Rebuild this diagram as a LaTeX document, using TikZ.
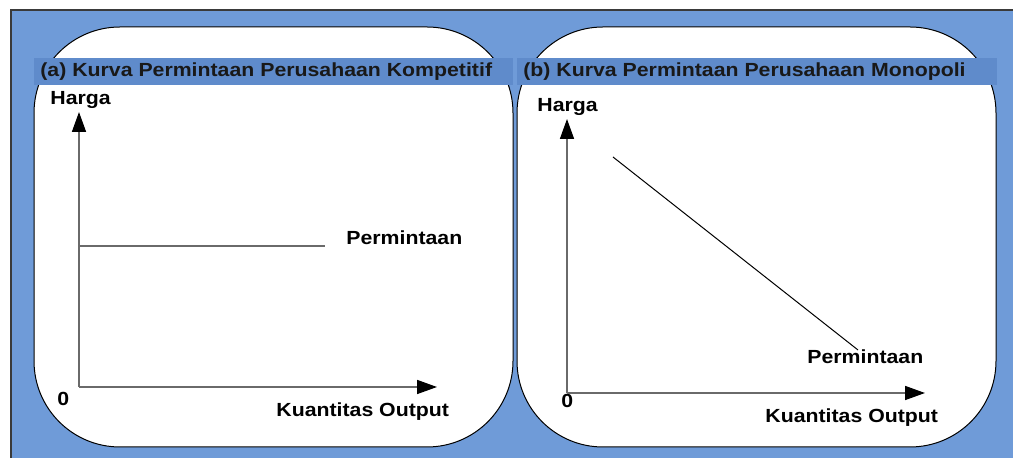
\documentclass[tikz,border=0pt]{standalone}
\usepackage{fontspec}
\newfontfamily\labfont[FakeStretch=1.12]{Liberation Sans}
\usepackage{tikz}
\usetikzlibrary{arrows.meta,positioning}
\definecolor{bgblue}{HTML}{6F9BD8}
\definecolor{band}{HTML}{5F8BCB}
\definecolor{frame}{HTML}{3A3A3A}
\definecolor{axis}{HTML}{6A6A6A}
\tikzset{
  >={Triangle[length=10pt,width=7pt,color=black]},
  panel/.style={draw=black,fill=white,line width=0.5pt,rounded corners=43pt},
  bandbox/.style={fill=band,draw=none},
  lab/.style={font=\labfont\bfseries\fontsize{9.5}{11}\selectfont,inner sep=0pt,anchor=base west},
  ttl/.style={lab,text=black!90},
  ax/.style={->,draw=axis,line width=0.8pt},
  dem/.style={draw=axis,line width=0.8pt},
}
\begin{document}
\begin{tikzpicture}[x=0.5pt,y=-0.5pt]
\useasboundingbox (0,0) rectangle (1013,458);
% backdrop
\fill[white] (0,0) rectangle (1013,458);
\draw[frame,fill=bgblue,line width=0.6pt] (11,10) rectangle (1020,465);
% the two panels
\draw[panel] (34,27) rectangle (513,447);
\draw[panel] (517,27) rectangle (996,447);
\fill[bandbox] (34,58) rectangle (513,85);
\fill[bandbox] (517,58) rectangle (997,85);
\node[ttl] (ta) at (40,77) {(a) Kurva Permintaan Perusahaan Kompetitif};
\node[ttl] (tb) at (523,77) {(b) Kurva Permintaan Perusahaan Monopoli};

% (a) competitive firm
\coordinate (oa) at (79,387);
\coordinate (ya) at (79,112);
\coordinate (xa) at (437,387);
\coordinate (da1) at (79,246);
\coordinate (da2) at (325,246);
\node[lab] (ha) at (50,105) {Harga};
\node[lab] (za) at (57,406) {0};
\node[lab] (qa) at (276,417) {Kuantitas Output};
\node[lab] (pa) at (346,245) {Permintaan};
\draw[ax] (oa) -- (ya);
\draw[ax] (oa) -- (xa);
\draw[dem] (da1) -- (da2);

% (b) monopoly
\coordinate (ob) at (567,393);
\coordinate (yb) at (567,119);
\coordinate (xb) at (925,393);
\coordinate (db1) at (613,157);
\coordinate (db2) at (858,350);
\node[lab] (hb) at (537,112) {Harga};
\node[lab] (zb) at (561,408) {0};
\node[lab] (qb) at (765,423) {Kuantitas Output};
\node[lab] (pb) at (807,364) {Permintaan};
\draw[ax] (ob) -- (yb);
\draw[ax] (ob) -- (xb);
\draw[black,line width=0.5pt] (db1) -- (db2);
\end{tikzpicture}
\end{document}
